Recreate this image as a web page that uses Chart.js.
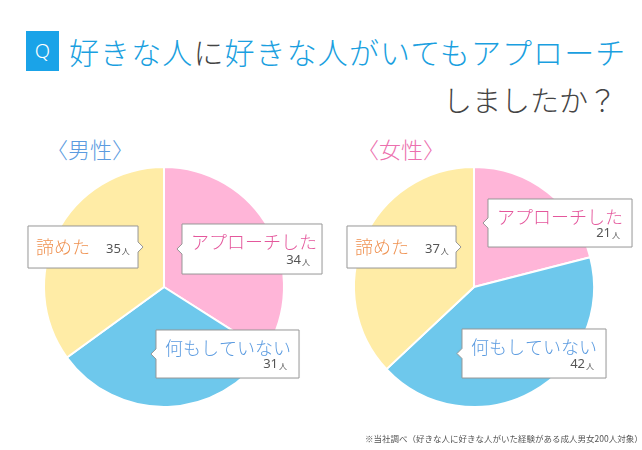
<!DOCTYPE html>
<html>
<head>
<meta charset="utf-8">
<script src="https://cdn.jsdelivr.net/npm/chart.js@4/dist/chart.umd.min.js"></script>
<style>
  body { margin:0; background:#fff; width:642px; height:450px; overflow:hidden; position:relative;
         font-family:"Noto Sans CJK JP","Noto Sans",sans-serif; }
  .q { position:absolute; left:26px; top:31px; width:33px; height:40px; background:#1aa3e8; color:#fff;
       font-size:20px; line-height:40px; text-align:center; font-weight:300; font-family:"Noto Sans","Noto Sans CJK JP",sans-serif; }
  .t1 { position:absolute; left:69px; top:29px; font-size:30px; line-height:44px; color:#1a9fe0; white-space:nowrap; letter-spacing:1.1px; font-weight:300; }
  .t1 span { color:#444; }
  .t2 { position:absolute; right:25px; top:77px; font-size:29px; line-height:44px; color:#444; white-space:nowrap; font-weight:300; }
  .sub { position:absolute; top:133px; font-size:22px; line-height:30px; white-space:nowrap; font-weight:300; }
  .note { position:absolute; left:365px; top:432px; font-size:8.5px; color:#555; white-space:nowrap; }
  canvas { position:absolute; }
</style>
</head>
<body>
<div class="q">Q</div>
<div class="t1">好きな人<span>に</span>好きな人がいてもアプローチ</div>
<div class="t2">しましたか？</div>
<div class="sub" style="left:46px;color:#5b9be0">〈男性〉</div>
<div class="sub" style="left:357px;color:#ec6fae">〈女性〉</div>
<canvas id="male" width="320" height="260" style="left:4px;top:157px"></canvas>
<canvas id="female" width="320" height="260" style="left:314px;top:157px"></canvas>
<div class="note">※当社調べ（好きな人に好きな人がいた経験がある成人男女200人対象）</div>
<script>
const categories = ['アプローチした', '何もしていない', '諦めた'];
const maleCounts = [34, 31, 35];
const femaleCounts = [21, 42, 37];
const unit = '人';

const sliceColors = ['#ffb5d8', '#6ec8ec', '#ffeca6'];
const labelColors = ['#e4579c', '#5b9be0', '#ef9150'];

// callout boxes, offsets relative to the pie centre
const maleBoxes = [
  {x: 18, y: -63, w: 140, h: 50, side: 'left', inline: false},
  {x: -8, y: 43, w: 143, h: 48, side: 'left', inline: false},
  {x: -136, y: -61, w: 110, h: 42, side: 'right', inline: true}
];
const femaleBoxes = [
  {x: 14, y: -88, w: 144, h: 48, side: 'left', inline: false},
  {x: -12, y: 42, w: 144, h: 49, side: 'left', inline: false},
  {x: -127, y: -61, w: 109, h: 42, side: 'right', inline: true}
];

const calloutPlugin = {
  id: 'callouts',
  afterDraw(chart, args, opts) {
    const ctx = chart.ctx;
    const arc = chart.getDatasetMeta(0).data[0];
    const cx = arc.x, cy = arc.y;
    const values = chart.data.datasets[0].data;
    opts.boxes.forEach((b, i) => {
      const x = cx + b.x, y = cy + b.y, w = b.w, h = b.h;
      const my = y + h / 2, p = 5;
      ctx.save();
      ctx.beginPath();
      ctx.moveTo(x, y);
      ctx.lineTo(x + w, y);
      if (b.side === 'right') {
        ctx.lineTo(x + w, my - p);
        ctx.lineTo(x + w + p, my);
        ctx.lineTo(x + w, my + p);
      }
      ctx.lineTo(x + w, y + h);
      ctx.lineTo(x, y + h);
      if (b.side === 'left') {
        ctx.lineTo(x, my + p);
        ctx.lineTo(x - p, my);
        ctx.lineTo(x, my - p);
      }
      ctx.closePath();
      ctx.shadowColor = 'rgba(0,0,0,0.12)';
      ctx.shadowBlur = 2;
      ctx.fillStyle = '#fff';
      ctx.fill();
      ctx.shadowColor = 'transparent';
      ctx.strokeStyle = '#9a9a9a';
      ctx.lineWidth = 1;
      ctx.stroke();

      const label = chart.data.labels[i];
      const num = String(values[i]);
      ctx.textBaseline = 'middle';
      ctx.fillStyle = labelColors[i];
      ctx.font = '300 18px "Noto Sans CJK JP"';
      ctx.textAlign = 'left';
      if (b.inline) {
        ctx.fillText(label, x + 8, my);
        ctx.fillStyle = '#555';
        ctx.font = '13px "Noto Sans","Noto Sans CJK JP"';
        const nx = x + 78;
        ctx.fillText(num, nx, my + 2);
        const nw = ctx.measureText(num).width;
        ctx.font = '8px "Noto Sans CJK JP"';
        ctx.fillText(unit, nx + nw + 1, my + 4);
      } else {
        ctx.fillText(label, x + 9, y + 18);
        ctx.font = '8px "Noto Sans CJK JP"';
        const uw = ctx.measureText(unit).width;
        const ux = x + w - 12 - uw;
        ctx.fillStyle = '#555';
        ctx.fillText(unit, ux, y + h - 12);
        ctx.font = '13px "Noto Sans","Noto Sans CJK JP"';
        ctx.textAlign = 'right';
        ctx.fillText(num, ux - 1, y + h - 14);
      }
      ctx.restore();
    });
  }
};

function makePie(id, counts, boxes) {
  return new Chart(document.getElementById(id), {
    type: 'pie',
    data: {
      labels: categories,
      datasets: [{
        data: counts,
        backgroundColor: sliceColors,
        borderColor: '#ffffff',
        borderWidth: 2
      }]
    },
    options: {
      responsive: false,
      animation: false,
      layout: { padding: { top: 9, bottom: 9 } },
      plugins: {
        legend: { display: false },
        tooltip: { enabled: false },
        callouts: { boxes: boxes }
      }
    },
    plugins: [calloutPlugin]
  });
}

makePie('male', maleCounts, maleBoxes);
makePie('female', femaleCounts, femaleBoxes);
</script>
</body>
</html>
